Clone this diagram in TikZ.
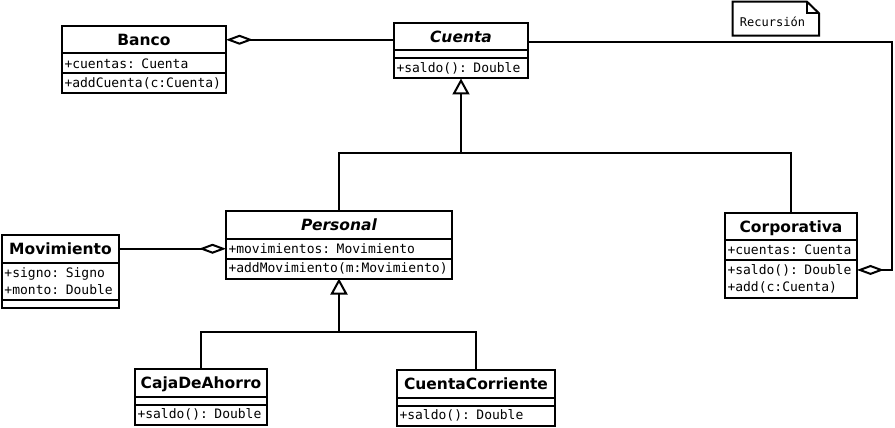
\documentclass[tikz,border=0pt]{standalone}
\usepackage{fontspec}
\setsansfont{DejaVu Sans}
\setmonofont{DejaVu Sans Mono}
\usepackage{tikz}
\usetikzlibrary{arrows.meta,positioning}
\definecolor{ink}{HTML}{000000}
\tikzset{
  line/.style={draw=ink, line width=2pt},
  title/.style={line, minimum width=#1, minimum height=27.5pt, inner sep=0pt, outer sep=0pt,
    font=\sffamily\bfseries\fontsize{15.5}{18}\selectfont, text height=11.3pt, text depth=0pt},
  member/.style={line, text width=#1, minimum height=20pt, inner xsep=2.5pt, inner ysep=0pt,
    outer sep=0pt, align=left, font=\ttfamily\fontsize{13}{16.5}\selectfont},
  empty/.style={minimum height=8pt},
  twolines/.style={minimum height=37.5pt},
  notetext/.style={inner sep=0pt, font=\ttfamily\fontsize{12}{14}\selectfont},
  agg/.tip={Diamond[open, length=27pt, width=10pt]},
  gen/.tip={Triangle[open, length=16pt, width=17pt]},
}
\begin{document}
\begin{tikzpicture}[x=1pt, y=-1pt]
\path[use as bounding box, fill=white] (0,0) rectangle (895,428);

\node[title=164, anchor=north west] (banco) at (62,26) {Banco};
\node[member=159pt, below=0pt of banco] (bancoA) {+cuentas: Cuenta};
\node[member=159pt, below=0pt of bancoA] (bancoM) {+addCuenta(c:Cuenta)};

\node[title=134, anchor=north west] (cuenta) at (394,23) {\itshape Cuenta};
\node[member=129pt, empty, below=0pt of cuenta] (cuentaA) {};
\node[member=129pt, below=0pt of cuentaA] (cuentaM) {+saldo(): Double};

\node[title=226, anchor=north west] (personal) at (226,211) {\itshape Personal};
\node[member=221pt, below=0pt of personal] (personalA) {+movimientos: Movimiento};
\node[member=221pt, below=0pt of personalA] (personalM) {+addMovimiento(m:Movimiento)};

\node[title=117, anchor=north west] (movimiento) at (2,235) {Movimiento};
\node[member=112pt, twolines, below=0pt of movimiento] (movimientoA) {+signo: Signo\\+monto: Double};
\node[member=112pt, empty, below=0pt of movimientoA] (movimientoM) {};

\node[title=132, anchor=north west] (corp) at (725,212.7) {Corporativa};
\node[member=127pt, below=0pt of corp] (corpA) {+cuentas: Cuenta};
\node[member=127pt, twolines, below=0pt of corpA] (corpM) {+saldo(): Double\\+add(c:Cuenta)};

\node[title=132, anchor=north west] (caja) at (135,369.3) {CajaDeAhorro};
\node[member=127pt, empty, below=0pt of caja] (cajaA) {};
\node[member=127pt, below=0pt of cajaA] (cajaM) {+saldo(): Double};

\node[title=158, anchor=north west] (corriente) at (397,370) {CuentaCorriente};
\node[member=153pt, empty, below=0pt of corriente] (corrienteA) {};
\node[member=153pt, below=0pt of corrienteA] (corrienteM) {+saldo(): Double};

\node[notetext, anchor=base] (rec) at (772.5,27) {Recursión};
\draw[line] (732.7,1.7) -- (807,1.7) -- (819,13.3) |- (732.7,35.7) -- cycle;
\draw[line] (807,1.7) |- (819,13.3);

\draw[line, agg-] (banco.east) -- (banco.east -| cuenta.west);
\draw[line, agg-] ([yshift=9pt]corpM.east) -- ++(35,0) |- ([yshift=-5pt]cuenta.east);
\draw[line, -agg] (movimiento.east) -- (movimiento.east -| personalA.west);

\coordinate[below=74pt of cuentaM.south] (cuentaJ);
\draw[line, -gen] (personal.north) |- (cuentaJ) -- (cuentaM.south);
\draw[line] (corp.north) |- (cuentaJ);

\coordinate[below=53pt of personalM.south] (personalJ);
\draw[line, -gen] (caja.north) |- (personalJ) -- (personalM.south);
\draw[line] (corriente.north) |- (personalJ);
\end{tikzpicture}
\end{document}
